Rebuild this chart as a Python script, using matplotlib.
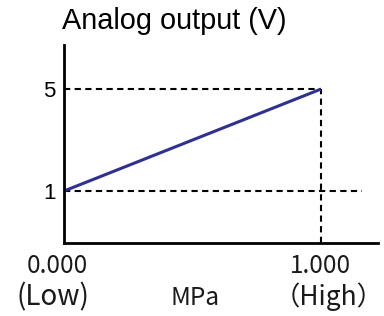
import matplotlib.pyplot as plt

# data
pressure = [0.0, 1.0]      # MPa
voltage = [1.0, 5.0]       # V
ytick_vals = [1, 5]
ytick_labels = ["1", "5"]
xtick_labels = ["0.000", "1.000"]

W, H = 384, 316
fig = plt.figure(figsize=(W / 100, H / 100), dpi=100)
ax = fig.add_axes([64 / W, 1 - 243 / H, (378 - 64) / W, (243 - 45) / H])

ax.set_xlim(0, 1.222)
ax.set_ylim(-1.04, 6.73)

# reference dashed lines
dash = dict(color="black", lw=1.5, ls=(0, (3, 2.1)))
ax.plot([pressure[0], pressure[1]], [voltage[1], voltage[1]], **dash)
ax.plot([pressure[1], pressure[1]], [-1.04, voltage[1]], **dash)
ax.plot([pressure[0], 1.16], [voltage[0], voltage[0]], **dash)

ax.plot(pressure, voltage, color="#2e3192", lw=2.2, solid_capstyle="butt")

for s in ["top", "right"]:
    ax.spines[s].set_visible(False)
for s in ["left", "bottom"]:
    ax.spines[s].set_linewidth(2)

ax.set_yticks(ytick_vals)
ax.set_yticklabels(ytick_labels, fontsize=16, family="Liberation Sans")
ax.tick_params(axis="y", length=0, pad=6)
ax.set_xticks([])

fig.text(62 / W, 1 - 29 / H, "Analog output (V)", fontsize=20.8, family="Liberation Sans",
         va="baseline", ha="left")

cjk = ["Noto Sans CJK SC", "DejaVu Sans"]
kw = dict(family=cjk, weight="light", color="#1a1a1a", va="baseline", ha="center")
fig.text(57 / W, 1 - 273 / H, xtick_labels[0], fontsize=17.5, **kw)
fig.text(320 / W, 1 - 273 / H, xtick_labels[1], fontsize=17.5, **kw)
fig.text(53 / W, 1 - 305 / H, "(Low)", fontsize=20, **kw)
fig.text(195 / W, 1 - 305 / H, "MPa", fontsize=17.5, **kw)
fig.text(329 / W, 1 - 305 / H, "（High）", fontsize=19, **kw)

fig.savefig("out.png", dpi=100)
